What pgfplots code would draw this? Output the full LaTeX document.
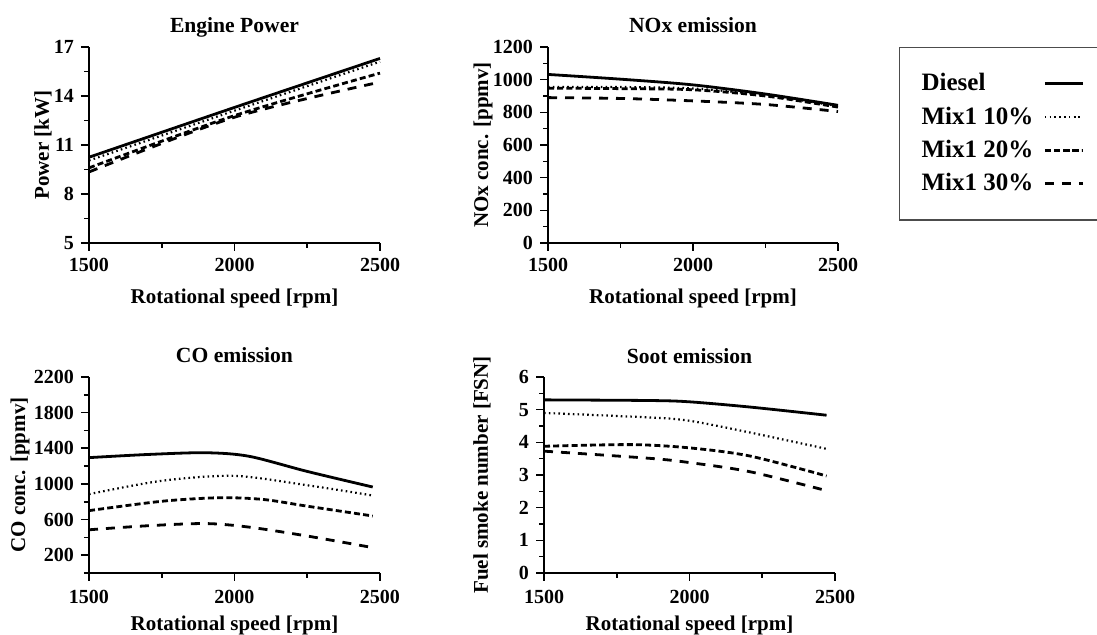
\documentclass[border=0pt]{standalone}
\usepackage{fontspec}
\setmainfont{Liberation Serif}
\usepackage{pgfplots}
\pgfplotsset{compat=1.18}

% line styles of the four fuels
\tikzset{
  diesel/.style={black, line width=1.4pt},
  mixA/.style={black, line width=1.1pt, dash pattern=on 0.8pt off 1.6pt},
  mixB/.style={black, line width=1.4pt, dash pattern=on 3pt off 1.6pt},
  mixC/.style={black, line width=1.4pt, dash pattern=on 4.5pt off 4pt},
}

\pgfplotsset{
  panel/.style={
    scale only axis, width=145.5pt, height=98pt,
    axis x line=bottom, axis y line=left,
    axis line style={-, line width=0.9pt},
    xmin=1500, xmax=2500,
    xtick={1500,2000,2500}, minor x tick num=1,
    tick align=outside,
    major tick length=4pt, minor tick length=2.5pt,
    every tick/.style={black, line width=0.8pt},
    /pgf/number format/assume math mode=true,
    /pgf/number format/1000 sep={},
    tick label style={font=\fontsize{10}{11}\selectfont\bfseries},
    label style={font=\fontsize{10.5}{12}\selectfont\bfseries},
    title style={font=\fontsize{10.8}{12}\selectfont\bfseries,
      at={(0.5,1)}, anchor=base, yshift=1pt},
    xlabel={Rotational speed [rpm]},
    clip=false,
    every axis plot/.append style={smooth, no markers, tension=0.5},
  },
  ylab/.style={y label style={at={(axis description cs:-#1,0.5)}, anchor=center}},
}

\begin{document}
\begin{tikzpicture}

% ---------- Engine power ----------
\begin{axis}[panel, at={(44.5pt,-121.5pt)}, anchor=south west,
  title={Engine Power}, ylabel={Power [kW]}, ylab=0.158,
  x label style={yshift=-2pt},
  ymin=5, ymax=17, ytick={5,8,11,14,17}, minor y tick num=1]
\addplot[diesel] coordinates {(1500,10.25) (2000,13.3) (2500,16.3)};
\addplot[mixA]   coordinates {(1500,10.05) (2000,13.1) (2500,16.1)};
\addplot[mixB]   coordinates {(1500,9.6) (2000,12.8) (2500,15.4)};
\addplot[mixC]   coordinates {(1500,9.35) (2000,12.7) (2500,14.85)};
\end{axis}

% ---------- NOx ----------
\begin{axis}[panel, at={(274pt,-121.5pt)}, anchor=south west, width=145pt,
  title={NOx emission}, ylabel={NOx conc. [ppmv]}, ylab=0.224,
  x label style={yshift=-2pt},
  ymin=0, ymax=1200, ytick={0,200,...,1200}, minor y tick num=1,
  legend plot pos=right,
  legend cell align=left,
  legend style={at={(1.2103,1)}, anchor=north west,
    draw=black!70, line width=0.6pt,
    font=\fontsize{12.5}{14}\selectfont\bfseries,
    inner xsep=9pt, inner ysep=11pt,
    row sep=2.5pt,
    /tikz/every odd column/.append style={column sep=3pt}},
  legend image post style={xscale=1.1}]
\addplot[diesel] coordinates {(1500,1032) (1750,1003) (2000,968) (2250,912) (2500,843)};
\addlegendentry{Diesel}
\addplot[mixA]   coordinates {(1500,955) (1750,955) (2000,946) (2250,905) (2500,838)};
\addlegendentry{Mix1 10\%}
\addplot[mixB]   coordinates {(1500,948) (1750,945) (2000,938) (2250,900) (2500,832)};
\addlegendentry{Mix1 20\%}
\addplot[mixC]   coordinates {(1500,890) (1750,885) (2000,870) (2250,848) (2500,805)};
\addlegendentry{Mix1 30\%}
\end{axis}

% ---------- CO ----------
\begin{axis}[panel, at={(44.5pt,-286.5pt)}, anchor=south west,
  title={CO emission}, ylabel={CO conc. [ppmv]}, ylab=0.237,
  x tick label style={yshift=-1pt}, x label style={yshift=0.5pt},
  ymin=0, ymax=2200, ytick={200,600,...,2200}, minor ytick={0,400,...,2000}]
\addplot[diesel] coordinates {(1500,1295) (1700,1330) (1900,1350) (2050,1310) (2250,1140) (2475,965)};
\addplot[mixA]   coordinates {(1500,885) (1750,1035) (2000,1090) (2250,985) (2475,870)};
\addplot[mixB]   coordinates {(1500,700) (1750,805) (1950,845) (2100,825) (2250,750) (2475,640)};
\addplot[mixC]   coordinates {(1500,485) (1700,530) (1900,555) (2050,515) (2250,415) (2475,285)};
\end{axis}

% ---------- Soot ----------
\begin{axis}[panel, at={(272pt,-286.5pt)}, anchor=south west,
  title={Soot emission}, ylabel={Fuel smoke number [FSN]}, ylab=0.213,
  x tick label style={yshift=-1pt}, x label style={yshift=0.5pt},
  ymin=0, ymax=6, ytick={0,1,...,6}, minor y tick num=1]
\addplot[diesel] coordinates {(1500,5.3) (1864,5.28) (2000,5.24) (2208,5.08) (2471,4.83)};
\addplot[mixA]   coordinates {(1500,4.9) (1864,4.76) (2000,4.66) (2208,4.3) (2471,3.8)};
\addplot[mixB]   coordinates {(1500,3.88) (1800,3.93) (2000,3.83) (2208,3.58) (2471,2.97)};
\addplot[mixC]   coordinates {(1500,3.73) (1864,3.51) (2000,3.38) (2208,3.1) (2471,2.52)};
\end{axis}

\pgfresetboundingbox
\useasboundingbox (0,0) rectangle (548.5pt,-317.5pt);
\end{tikzpicture}
\end{document}
